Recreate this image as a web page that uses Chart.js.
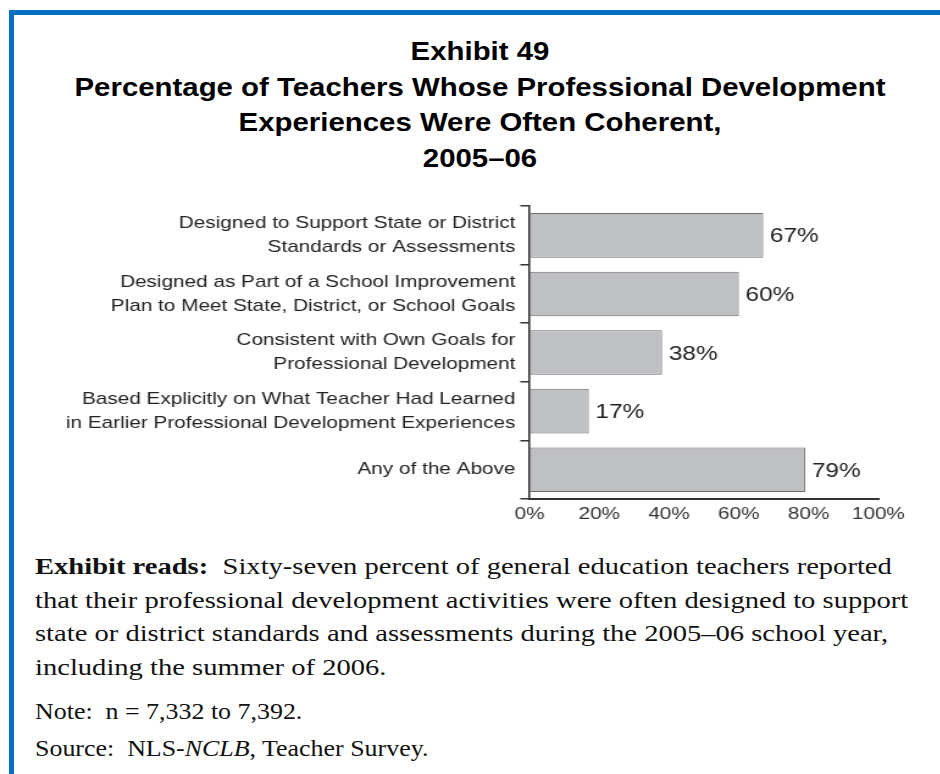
<!DOCTYPE html>
<html>
<head>
<meta charset="utf-8">
<script src="https://cdn.jsdelivr.net/npm/chart.js@4.4.1/dist/chart.umd.min.js"></script>
<style>
  html, body { margin: 0; padding: 0; background: #fff; }
  body { width: 940px; height: 774px; position: relative; overflow: hidden; }
  .frame {
    position: absolute; left: 9px; top: 10px; width: 940px; height: 780px;
    border-top: 5px solid #0070c0; border-left: 5px solid #0070c0;
  }
  .title {
    position: absolute; left: 20px; width: 920px; top: 34px;
    text-align: center; font: bold 26px "Liberation Sans", Arial, sans-serif;
    line-height: 35.5px; color: #000;
    transform: scaleX(1.13); transform-origin: 460px 0;
  }
  /* the source picture is stretched sideways, so the chart is too */
  #wrap {
    position: absolute; left: 0; top: 190px; width: 771px; height: 340px;
    transform: scaleX(1.22); transform-origin: 0 0;
  }
  .notes {
    position: absolute; left: 35px; top: 550px; width: 900px;
    font: 24px "Liberation Serif", "Times New Roman", serif; color: #111;
    line-height: 33.5px;
  }
  .notes p { margin: 0 0 11px 0; transform-origin: 0 0; white-space: nowrap; }
  .notes p.reads { transform: scaleX(1.19); }
  .notes p.small { transform: scaleX(1.08); margin-bottom: 3px; }
</style>
</head>
<body>
<div class="frame"></div>
<div class="title">Exhibit 49<br>Percentage of Teachers Whose Professional Development<br>Experiences Were Often Coherent,<br>2005–06</div>
<div id="wrap"><canvas id="chart" width="771" height="340"></canvas></div>
<div class="notes">
  <p class="reads"><b>Exhibit reads:</b>&nbsp; Sixty-seven percent of general education teachers reported<br>that their professional development activities were often designed to support<br>state or district standards and assessments during the 2005–06 school year,<br>including the summer of 2006.</p>
  <p class="small">Note:&nbsp; n = 7,332 to 7,392.</p>
  <p class="small">Source:&nbsp; NLS-<i>NCLB</i>, Teacher Survey.</p>
</div>
<script>
const categories = [
  ["Designed to Support State or District", "Standards or Assessments"],
  ["Designed as Part of a School Improvement", "Plan to Meet State, District, or School Goals"],
  ["Consistent with Own Goals for", "Professional Development"],
  ["Based Explicitly on What Teacher Had Learned", "in Earlier Professional Development Experiences"],
  ["Any of the Above"]
];
const values = [67, 60, 38, 17, 79];
const tickValues = [0, 20, 40, 60, 80, 100];

const valueLabels = {
  id: "valueLabels",
  afterDatasetsDraw(chart) {
    const ctx = chart.ctx;
    const meta = chart.getDatasetMeta(0);
    ctx.save();
    ctx.font = "20px 'Liberation Sans', Arial, sans-serif";
    ctx.fillStyle = "#222";
    ctx.textBaseline = "middle";
    meta.data.forEach((bar, i) => {
      ctx.fillText(values[i] + "%", bar.x + 5.5, bar.y + 1.5);
    });
    ctx.restore();
  }
};

new Chart(document.getElementById("chart"), {
  type: "bar",
  data: {
    labels: categories,
    datasets: [{
      data: values,
      backgroundColor: "#bfc0c3",
      borderColor: "#6e6e6e",
      borderWidth: 1,
      borderSkipped: false,
      barPercentage: 0.76,
      categoryPercentage: 1
    }]
  },
  options: {
    indexAxis: "y",
    responsive: false,
    animation: false,
    layout: { padding: { top: 16, right: 51, bottom: 1, left: 0 } },
    plugins: { legend: { display: false }, tooltip: { enabled: false } },
    scales: {
      x: {
        min: 0, max: 100,
        afterBuildTicks(scale) { scale.ticks = tickValues.map(v => ({ value: v })); },
        afterFit(scale) { scale.height = 30; },
        grid: { display: true, drawOnChartArea: false, drawTicks: false },
        border: { display: true, color: "#333", width: 2 },
        ticks: {
          padding: 5,
          color: "#333",
          font: { family: "'Liberation Sans', Arial, sans-serif", size: 17 },
          callback: v => v + "%"
        }
      },
      y: {
        afterFit(scale) { scale.width = 434; },
        grid: { display: true, offset: true, drawOnChartArea: false, tickLength: 7.5, color: "#333", lineWidth: 1.5 },
        border: { display: true, color: "#333", width: 1.6 },
        ticks: {
          padding: 4,
          color: "#222",
          font: { family: "'Liberation Sans', Arial, sans-serif", size: 17, lineHeight: 1.42 }
        }
      }
    }
  },
  plugins: [valueLabels]
});
</script>
</body>
</html>
